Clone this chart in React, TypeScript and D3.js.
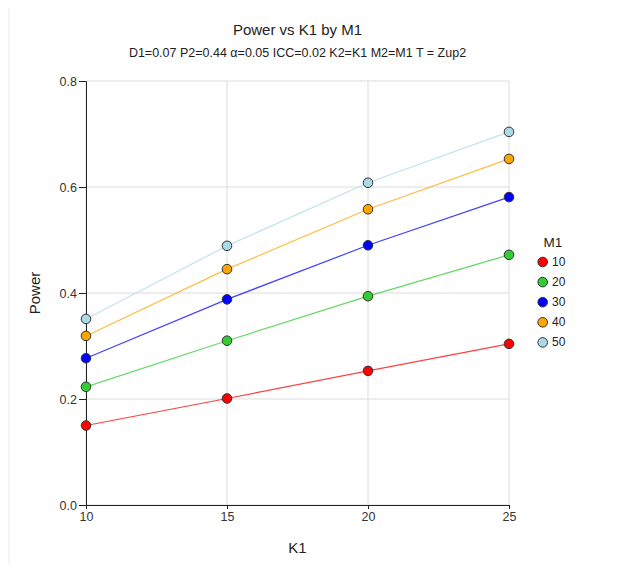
import React, { FC, useEffect, useRef } from "react"
import { axisBottom, axisLeft, line, scaleLinear, select } from "d3"

// data
const k1Values = [10, 15, 20, 25]
const m1Labels = ["10", "20", "30", "40", "50"]
const power10 = [0.15, 0.201, 0.253, 0.304]
const power20 = [0.223, 0.31, 0.394, 0.472]
const power30 = [0.277, 0.388, 0.49, 0.581]
const power40 = [0.319, 0.445, 0.558, 0.653]
const power50 = [0.351, 0.489, 0.608, 0.704]
const yTicks = [0, 0.2, 0.4, 0.6, 0.8]
const xTicks = [10, 15, 20, 25]
const seriesColors = ["#ff0000", "#33cc33", "#0000ff", "#ffa500", "#add8e6"]

const App: FC = () => {
  const svgRef = useRef<SVGSVGElement>(null)

  useEffect(() => {
    const svg = select(svgRef.current)
    svg.selectAll("*").remove()

    const font = "'Liberation Sans', Arial, sans-serif"
    const margins = { left: 76, top: 77, right: 112, bottom: 67 }
    const width = 611
    const height = 568
    const boundsWidth = width - margins.left - margins.right
    const boundsHeight = height - margins.top - margins.bottom

    const xScale = scaleLinear().domain([10, 25]).range([0, boundsWidth])
    const yScale = scaleLinear().domain([0, 0.8]).range([boundsHeight, 0])

    const series = [power10, power20, power30, power40, power50]

    // title
    svg
      .append("text")
      .attr("x", margins.left + boundsWidth / 2)
      .attr("y", 31)
      .attr("text-anchor", "middle")
      .style("font-family", font)
      .style("font-size", "15px")
      .attr("fill", "#222")
      .text("Power vs K1 by M1")
    svg
      .append("text")
      .attr("x", margins.left + boundsWidth / 2)
      .attr("y", 53)
      .attr("text-anchor", "middle")
      .style("font-family", font)
      .style("font-size", "12.5px")
      .attr("fill", "#222")
      .text("D1=0.07 P2=0.44 α=0.05 ICC=0.02 K2=K1 M2=M1 T = Zup2")

    const bounds = svg
      .append("g")
      .attr("transform", `translate(${margins.left},${margins.top})`)

    // grid
    bounds
      .selectAll(".hgrid")
      .data(yTicks)
      .join("line")
      .attr("x1", 0)
      .attr("x2", boundsWidth)
      .attr("y1", (d) => yScale(d))
      .attr("y2", (d) => yScale(d))
      .attr("stroke", "#dcdcdc")
    bounds
      .selectAll(".vgrid")
      .data(xTicks)
      .join("line")
      .attr("x1", (d) => xScale(d))
      .attr("x2", (d) => xScale(d))
      .attr("y1", 0)
      .attr("y2", boundsHeight)
      .attr("stroke", "#dcdcdc")

    // axes
    const yAxis = bounds
      .append("g")
      .call(
        axisLeft(yScale)
          .tickValues(yTicks)
          .tickFormat((d) => Number(d).toFixed(1))
          .tickSizeOuter(0)
          .tickSize(7),
      )
    const xAxis = bounds
      .append("g")
      .attr("transform", `translate(0,${boundsHeight})`)
      .call(axisBottom(xScale).tickValues(xTicks).tickSizeOuter(0).tickSize(4))
    for (const ax of [yAxis, xAxis]) {
      ax.select(".domain").attr("stroke", "#222")
      ax.selectAll(".tick line").attr("stroke", "#222")
      ax.selectAll(".tick text")
        .style("font-family", font)
        .style("font-size", "12.5px")
        .attr("fill", "#333")
    }
    yAxis.selectAll(".tick text").attr("x", -9)
    xAxis.selectAll(".tick text").attr("y", 7)

    // axis labels
    svg
      .append("text")
      .attr("transform", `translate(30,${margins.top + boundsHeight / 2}) rotate(-90)`)
      .attr("text-anchor", "middle")
      .style("font-family", font)
      .style("font-size", "15px")
      .attr("fill", "#222")
      .text("Power")
    svg
      .append("text")
      .attr("x", margins.left + boundsWidth / 2)
      .attr("y", 549)
      .attr("text-anchor", "middle")
      .style("font-family", font)
      .style("font-size", "15px")
      .attr("fill", "#222")
      .text("K1")

    // lines
    const lineGen = line<number>()
      .x((_, i) => xScale(k1Values[i]))
      .y((d) => yScale(d))
    series.forEach((values, s) => {
      bounds
        .append("path")
        .attr("d", lineGen(values))
        .attr("fill", "none")
        .attr("stroke", seriesColors[s])
        .attr("stroke-opacity", 0.75)
        .attr("stroke-width", 1.2)
    })
    series.forEach((values, s) => {
      bounds
        .append("g")
        .selectAll("circle")
        .data(values)
        .join("circle")
        .attr("cx", (_, i) => xScale(k1Values[i]))
        .attr("cy", (d) => yScale(d))
        .attr("r", 4.8)
        .attr("fill", seriesColors[s])
        .attr("stroke", "#333")
        .attr("stroke-width", 1)
    })

    // legend
    const legend = svg.append("g").attr("transform", "translate(532,0)")
    legend
      .append("text")
      .attr("x", 11)
      .attr("y", 243)
      .attr("text-anchor", "middle")
      .style("font-family", font)
      .style("font-size", "13.5px")
      .attr("fill", "#222")
      .text("M1")
    const items = legend
      .selectAll(".item")
      .data(m1Labels)
      .join("g")
      .attr("transform", (_, i) => `translate(0,${258 + i * 20.1})`)
    items
      .append("circle")
      .attr("cx", 0.7)
      .attr("cy", 0)
      .attr("r", 4.8)
      .attr("fill", (_, i) => seriesColors[i])
      .attr("stroke", "#333")
    items
      .append("text")
      .attr("x", 10)
      .attr("y", 4)
      .style("font-family", font)
      .style("font-size", "12px")
      .attr("fill", "#222")
      .text((d) => d)
  }, [])

  return (
    <div style={{ background: "#f5f5f5", width: 621, height: 572, margin: -8, paddingLeft: 10, paddingTop: 4, boxSizing: "border-box" }}>
      <svg ref={svgRef} width={611} height={568} style={{ display: "block", background: "#fff" }} />
    </div>
  )
}

export default App
